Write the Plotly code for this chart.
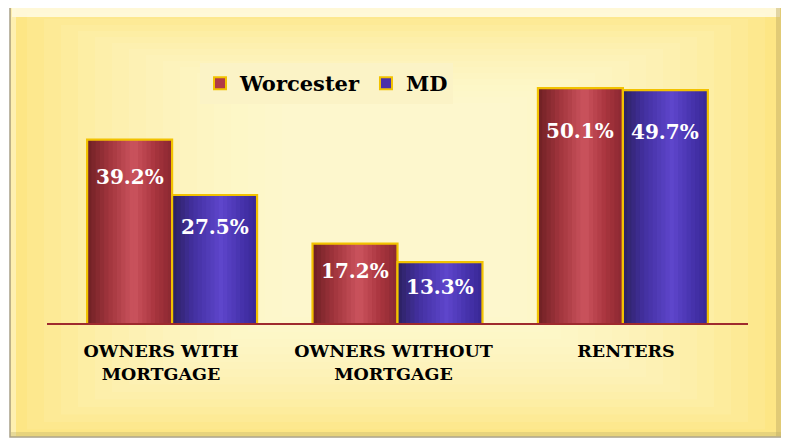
import plotly.graph_objects as go

categories = ["OWNERS WITH<br>MORTGAGE", "OWNERS WITHOUT<br>MORTGAGE", "RENTERS"]
worcester = [39.2, 17.2, 50.1]
md = [27.5, 13.3, 49.7]
series_names = ["Worcester", "MD"]

# the page body adds an 8px margin, so the figure is drawn 8px in from the corner
OFF = 8
W, H = 789 - OFF, 440 - OFF
PL, PR, PT, PB = 47, 748, 65, 325          # plot area in screenshot pixels
L, R, T, B = PL - OFF, W - (PR - OFF), PT - OFF, H - (PB - OFF)
PW, PH = PR - PL, PB - PT

def px(x):
    return (x - PL) / PW

def py(y):
    return (PB - y) / PH

xs = list(range(len(categories)))
BW = 0.377
GOLD = "#f2c200"

def hex2rgb(h):
    h = h.lstrip("#")
    return [int(h[i:i + 2], 16) for i in (0, 2, 4)]

def lerp(c1, c2, t):
    a, b = hex2rgb(c1), hex2rgb(c2)
    return "rgb(%d,%d,%d)" % tuple(round(a[i] + (b[i] - a[i]) * t) for i in range(3))

def profile(stops, t):
    for (t0, c0), (t1, c1) in zip(stops, stops[1:]):
        if t0 <= t <= t1:
            return lerp(c0, c1, (t - t0) / (t1 - t0) if t1 > t0 else 0)
    return lerp(stops[-1][1], stops[-1][1], 0)

RED_STOPS = [(0.0, "#6e2024"), (0.25, "#a0343c"), (0.55, "#cc545e"), (0.8, "#a8343e"), (1.0, "#8a2831")]
BLUE_STOPS = [(0.0, "#2c2160"), (0.25, "#4330a0"), (0.58, "#5e46cc"), (0.82, "#4632ac"), (1.0, "#382894")]
NSTRIP = 20

fig = go.Figure()

def add_cyl(vals, off, stops, name, legcolor):
    sw = BW / NSTRIP
    for k in range(NSTRIP):
        t = (k + 0.5) / NSTRIP
        # each strip runs to the bar's right edge; later strips cover earlier ones (no seams)
        fig.add_bar(x=xs, y=vals, offset=off + k * sw, width=BW - k * sw, showlegend=False,
                    marker=dict(color=profile(stops, t), line=dict(width=0)), hoverinfo="skip")
    fig.add_bar(x=xs, y=vals, offset=off, width=BW, name=name,
                marker=dict(color="rgba(0,0,0,0)", line=dict(color=GOLD, width=2.2)),
                hoverinfo="skip", showlegend=False)
    # legend proxy
    fig.add_bar(x=[None], y=[None], name=name,
                marker=dict(color=legcolor, line=dict(color=GOLD, width=2)), hoverinfo="skip")

add_cyl(worcester, -BW, RED_STOPS, series_names[0], "#b03a47")
add_cyl(md, 0.0, BLUE_STOPS, series_names[1], "#4a30a8")

annotations = []
for vals, dx in ((worcester, -BW / 2), (md, BW / 2)):
    for i, v in enumerate(vals):
        annotations.append(dict(x=i + dx, y=0.9 * v - 4, xref="x", yref="y",
                                text=f"{v:.1f}%", showarrow=False,
                                font=dict(family="DejaVu Serif", size=20, color="white", weight="bold")))

shapes = []
# frame
shapes.append(dict(type="rect", xref="paper", yref="paper", layer="below",
                   x0=px(10), x1=px(782), y0=py(437), y1=py(7),
                   fillcolor="#fde685", line=dict(color="#a8a088", width=1.5)))
# soft radial-ish lightening
NL = 16
for k in range(NL):
    ins = 10 + k * 10
    shapes.append(dict(type="rect", xref="paper", yref="paper", layer="below",
                       x0=px(10 + ins * 1.7), x1=px(782 - ins * 1.7),
                       y0=py(437 - ins * 0.75), y1=py(7 + ins * 0.6),
                       fillcolor="rgba(255,251,228,0.10)", line=dict(width=0)))
# top bevel
shapes.append(dict(type="rect", xref="paper", yref="paper", layer="below",
                   x0=px(12), x1=px(780), y0=py(17), y1=py(8),
                   fillcolor="rgba(255,253,235,0.8)", line=dict(width=0)))
# side bevels
shapes.append(dict(type="rect", xref="paper", yref="paper", layer="below",
                   x0=px(11), x1=px(16), y0=py(436), y1=py(8),
                   fillcolor="rgba(255,250,220,0.5)", line=dict(width=0)))
shapes.append(dict(type="rect", xref="paper", yref="paper", layer="below",
                   x0=px(776), x1=px(781), y0=py(436), y1=py(8),
                   fillcolor="rgba(190,170,100,0.45)", line=dict(width=0)))
shapes.append(dict(type="rect", xref="paper", yref="paper", layer="below",
                   x0=px(11), x1=px(781), y0=py(436), y1=py(432),
                   fillcolor="rgba(190,175,110,0.35)", line=dict(width=0)))
# baseline
shapes.append(dict(type="line", xref="paper", yref="y", layer="above",
                   x0=0, x1=1, y0=0, y1=0, line=dict(color="#9e2a2e", width=4)))

# category labels sit on their own evenly spaced axis (slightly wider spacing than the groups)
LAB0, LABSTEP = 161, 232.5
lab_lo = -(LAB0 - PL) / LABSTEP
lab_hi = lab_lo + PW / LABSTEP

fig.update_layout(
    width=W, height=H,
    margin=dict(l=L, r=R, t=T, b=B, pad=0),
    paper_bgcolor="white", plot_bgcolor="rgba(0,0,0,0)",
    barmode="overlay",
    showlegend=True,
    legend=dict(orientation="h", x=px(200), y=py(63), xanchor="left", yanchor="top",
                bgcolor="#fbf3c6", borderwidth=0,
                font=dict(family="DejaVu Serif", size=21, color="black", weight="bold"),
                itemwidth=30, traceorder="normal", tracegroupgap=0),
    xaxis=dict(range=[-0.555, 2.555], showticklabels=False, ticks="",
               showgrid=False, zeroline=False, showline=False),
    xaxis2=dict(overlaying="x", side="bottom", anchor="y", range=[lab_lo, lab_hi],
                tickmode="array", tickvals=xs, ticktext=categories,
                showgrid=False, zeroline=False, showline=False,
                ticks="outside", ticklen=10, tickcolor="rgba(0,0,0,0)",
                tickfont=dict(family="DejaVu Serif", size=17.5,
                              color="black", weight="bold")),
    yaxis=dict(range=[0, 55], visible=False, showgrid=False, zeroline=False),
    shapes=shapes,
    annotations=annotations,
)
# a hidden trace so the label axis is drawn
fig.add_scatter(x=[None], y=[None], xaxis="x2", showlegend=False, hoverinfo="skip")

fig.write_html("out.html")
